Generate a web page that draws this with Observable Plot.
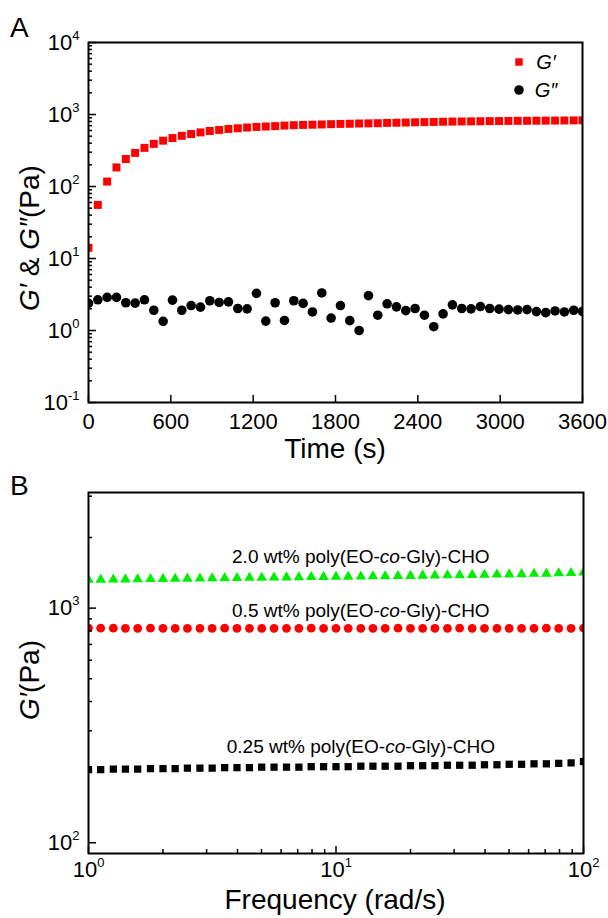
<!DOCTYPE html>
<html><head><meta charset="utf-8">
<script src="https://cdn.jsdelivr.net/npm/d3@7"></script>
<script src="https://cdn.jsdelivr.net/npm/@observablehq/plot@0.6"></script>
<style>
body{margin:0;background:#fff;}
#wrap{position:relative;width:608px;height:918px;font-family:"Liberation Sans",Arial,sans-serif;overflow:hidden;}
.panel{position:absolute;left:0;}
.tag{position:absolute;left:10px;font-size:28px;line-height:28px;color:#000;}
</style></head><body>
<div id="wrap">
 <div id="pa" class="panel" style="top:0px"></div>
 <div id="pb" class="panel" style="top:460px"></div>
 <div class="tag" style="top:14px">A</div>
 <div class="tag" style="top:472px">B</div>
</div>
<script>
// ---------- Panel A data ----------
const timeS = [0,68,136,204,272,340,408,476,544,612,680,748,816,884,952,1020,1088,1156,1224,1292,1360,1428,1496,1564,1632,1700,1768,1836,1904,1972,2040,2108,2176,2244,2312,2380,2448,2516,2584,2652,2720,2788,2856,2924,2992,3060,3128,3196,3264,3332,3400,3468,3536,3600];
const gPrime = [14.1,55.5,117,184,241,293,344,391,433,471,506,535,564,590,610,630,644,659,672,681,689,702,710,717,722,727,734,740,744,750,753,757,764,769,774,779,784,788,793,797,800,803,806,809,811,814,816,818,820,822,824,826,828,830];
const gDouble = [2.38,2.67,2.88,2.88,2.43,2.40,2.67,1.91,1.34,2.64,1.91,2.22,2.11,2.59,2.45,2.50,2.02,2.00,3.28,1.35,2.43,1.38,2.59,2.38,1.81,3.32,1.49,2.22,1.37,1.00,3.05,1.63,2.35,2.13,1.89,2.02,1.63,1.13,1.70,2.27,2.02,2.00,2.15,2.02,1.98,1.95,1.93,1.95,1.83,1.77,1.87,1.81,1.91,1.85];
const timeTicks = [0,600,1200,1800,2400,3000,3600];
const modTicks = [0.1,1,10,100,1000,10000];

// ---------- Panel B data ----------
const freq = [1,1.12,1.26,1.41,1.58,1.78,2,2.24,2.51,2.82,3.16,3.55,3.98,4.47,5.01,5.62,6.31,7.08,7.94,8.91,10,11.2,12.6,14.1,15.8,17.8,20,22.4,25.1,28.2,31.6,35.5,39.8,44.7,50.1,56.2,63.1,70.8,79.4,89.1,100];
const g20 = [1320,1322,1324,1326,1328,1330,1332,1334,1336,1338,1340,1342,1344,1346,1348,1350,1352,1354,1356,1358,1360,1362,1364,1366,1368,1370,1372,1375,1378,1380,1382,1385,1388,1390,1393,1396,1400,1403,1407,1412,1420];
const g05 = [822,821,821,820,820,821,820,820,819,820,820,821,820,820,819,820,820,820,821,820,820,820,819,820,820,821,820,820,820,820,821,820,820,820,819,820,820,821,820,820,822];
const g025 = [205,205,206,206,206,207,207,207,208,208,208,209,209,209,210,210,210,210,211,211,211,211,212,212,212,212,213,213,213,214,214,214,215,215,216,216,217,217,218,219,222];
const freqTicks = [1,10,100];
const gTicksB = [100,1000];
const gMinorB = [200,300,400,500,600,700,800,900,2000,3000];
const seriesLabels = ["2.0 wt% poly(EO-co-Gly)-CHO","0.5 wt% poly(EO-co-Gly)-CHO","0.25 wt% poly(EO-co-Gly)-CHO"];
const labelFreq = [12.6,12.6,12.6];
const labelG = [1649,971,256];

// ---------- helpers ----------
const FONT = "Liberation Sans, Arial, sans-serif";
const pow = d => "10^" + Math.round(Math.log10(d));
function minorLog(lo, hi) { const out=[]; for (let k=lo;k<=hi;k++) for (let m=2;m<=9;m++) out.push(m*Math.pow(10,k)); return out; }

const dataA1 = timeS.map((t,i)=>({t, v:gPrime[i]}));
const dataA2 = timeS.map((t,i)=>({t, v:gDouble[i]}));

const chartA = Plot.plot({
  width: 608, height: 470,
  marginLeft: 88, marginRight: 26, marginTop: 42, marginBottom: 68,
  style: {fontFamily: FONT, fontSize: "22px", color: "#000", background: "transparent", overflow: "visible"},
  x: {domain: [0,3600]},
  y: {type: "log", domain: [0.1, 10000]},
  marks: [
    Plot.dot(dataA2, {x:"t", y:"v", r:4.8, fill:"#000", symbol:"circle", clip:true}),
    Plot.dot(dataA1, {x:"t", y:"v", r:4.5, fill:"#f00", symbol:"square", clip:true}),
    Plot.axisY({ticks: minorLog(-1,3), tickSize: 4, dx: 4, tickFormat: () => "", label: null, strokeWidth: 1.5}),
    Plot.axisY({ticks: modTicks, tickSize: 8, dx: 8, tickPadding: 9, tickFormat: pow, label: null, strokeWidth: 1.5}),
    Plot.axisX({ticks: timeTicks, tickSize: 7, dy: -7, tickPadding: 11, tickFormat: d => String(d), label: null, strokeWidth: 1.5}),
    Plot.frame({stroke:"#000", strokeWidth: 2})
  ]
});

const dataB = [];
freq.forEach((f,i)=>{ dataB.push({f, v:g20[i], s:"2.0"}); dataB.push({f, v:g05[i], s:"0.5"}); dataB.push({f, v:g025[i], s:"0.25"}); });
const labelsB = seriesLabels.map((t,i)=>({t, f:labelFreq[i], v:labelG[i]}));

const chartB = Plot.plot({
  width: 608, height: 458,
  marginLeft: 88, marginRight: 25, marginTop: 32, marginBottom: 65,
  style: {fontFamily: FONT, fontSize: "22px", color: "#000", background: "transparent", overflow: "visible"},
  x: {type: "log", domain: [1,100]},
  y: {type: "log", domain: [90, 3110]},
  marks: [
    Plot.dot(dataB.filter(d=>d.s==="2.0"), {x:"f", y:"v", r:3.9, fill:"#00ee00", symbol:"triangle", clip:true}),
    Plot.dot(dataB.filter(d=>d.s==="0.5"), {x:"f", y:"v", r:4.4, fill:"#f00", symbol:"circle", clip:true}),
    Plot.dot(dataB.filter(d=>d.s==="0.25"), {x:"f", y:"v", r:4.1, fill:"#000", symbol:"square", clip:true}),
    Plot.text(labelsB, {x:"f", y:"v", text:"t", fontSize: 19, fill:"#000"}),
    Plot.axisY({ticks: gMinorB, tickSize: 4, dx: 4, tickFormat: () => "", label: null, strokeWidth: 1.5}),
    Plot.axisY({ticks: gTicksB, tickSize: 8, dx: 8, tickPadding: 9, tickFormat: pow, label: null, strokeWidth: 1.5}),
    Plot.axisX({ticks: minorLog(0,1), tickSize: 4, dy: -4, tickFormat: () => "", label: null, strokeWidth: 1.5}),
    Plot.axisX({ticks: freqTicks, tickSize: 7, dy: -7, tickPadding: 8, tickFormat: pow, label: null, strokeWidth: 1.5}),
    Plot.frame({stroke:"#000", strokeWidth: 2})
  ]
});

function post(svg) {
  d3.select(svg).selectAll("text").each(function(){
    const t = this.textContent;
    const m = /^10\^(-?\d+)$/.exec(t);
    const sel = d3.select(this);
    if (m) {
      sel.text("");
      sel.append("tspan").text("10");
      sel.append("tspan").attr("dy","-10").attr("font-size","13px").text(m[1]);
      return;
    }
    const i = t.indexOf("-co-");
    if (i >= 0) {
      sel.text("");
      sel.append("tspan").text(t.slice(0,i+1));
      sel.append("tspan").attr("font-style","italic").text("co");
      sel.append("tspan").text(t.slice(i+3));
    }
  });
}
post(chartA); post(chartB);

// Axis titles and legend
const sa = d3.select(chartA);
sa.append("text").attr("x",335).attr("y",458).attr("text-anchor","middle").attr("font-size",28).attr("fill","#000").text("Time (s)");
const ya = sa.append("text").attr("transform","translate(39,238) rotate(-90)").attr("text-anchor","middle").attr("font-size",28).attr("fill","#000");
ya.append("tspan").attr("font-style","italic").text("G′");
ya.append("tspan").text(" & ");
ya.append("tspan").attr("font-style","italic").text("G″");
ya.append("tspan").text("(Pa)");
const lg = sa.append("g").attr("font-size",20).attr("font-style","italic").attr("fill","#000");
lg.append("path").attr("d", d3.symbol(d3.symbolSquare, 56)()).attr("transform","translate(519,62)").attr("fill","#f00");
lg.append("path").attr("d", d3.symbol(d3.symbolCircle, 72)()).attr("transform","translate(519,90)").attr("fill","#000");
lg.append("text").attr("x",546).attr("y",69).text("G′");
lg.append("text").attr("x",546).attr("y",97).text("G″");

const sb = d3.select(chartB);
sb.append("text").attr("x",335).attr("y",449).attr("text-anchor","middle").attr("font-size",28).attr("fill","#000").text("Frequency (rad/s)");
const yb = sb.append("text").attr("transform","translate(39,220) rotate(-90)").attr("text-anchor","middle").attr("font-size",28).attr("fill","#000");
yb.append("tspan").attr("font-style","italic").text("G′");
yb.append("tspan").text("(Pa)");

document.getElementById("pa").append(chartA);
document.getElementById("pb").append(chartB);
</script>
</body></html>
